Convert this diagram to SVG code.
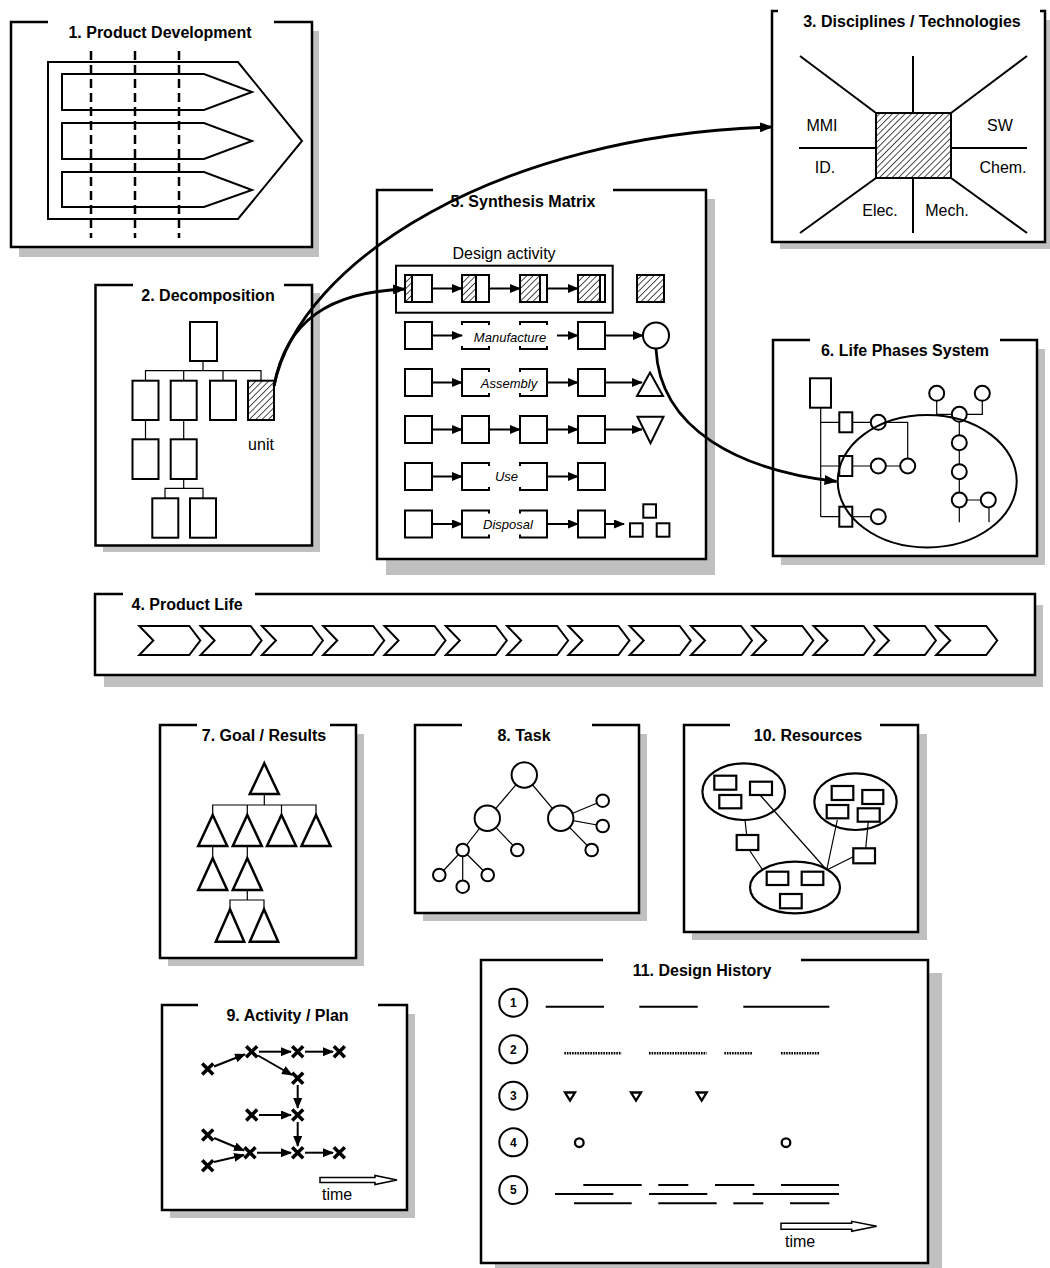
<svg xmlns="http://www.w3.org/2000/svg" width="1050" height="1268" viewBox="0 0 1050 1268">
<style>
text{font-family:"Liberation Sans",Arial,sans-serif;fill:#000}
.title{font-size:16px;font-weight:bold;text-anchor:middle}
.lbl{font-size:16px}
.it{font-size:13px;font-style:italic;text-anchor:middle}
.shadow{fill:#c0c0c0;stroke:none}
.bg{fill:#fff;stroke:none}
.frame{fill:none;stroke:#000;stroke-width:2.5}
.s2{fill:none;stroke:#000;stroke-width:2}
.sw{fill:#fff;stroke:#000;stroke-width:2}
.thin{fill:none;stroke:#000;stroke-width:1.2}
.arr{fill:none;stroke:#000;stroke-width:2;marker-end:url(#ah)}
.curve{fill:none;stroke:#000;stroke-width:2.8;marker-end:url(#ahb)}
.x{fill:none;stroke:#000;stroke-width:3.5}
</style>
<defs>
<pattern id="hatch" patternUnits="userSpaceOnUse" width="4.5" height="4.5" patternTransform="rotate(45)">
<rect width="4.5" height="4.5" fill="#fff"/>
<line x1="0" y1="0" x2="0" y2="4.5" stroke="#000" stroke-width="1.4"/>
</pattern>
<marker id="ah" markerWidth="11" markerHeight="9" refX="10" refY="4.5" orient="auto" markerUnits="userSpaceOnUse"><path d="M0,0 L11,4.5 L0,9 z" fill="#000"/></marker>
<marker id="ahb" markerWidth="13" markerHeight="10" refX="12" refY="5" orient="auto" markerUnits="userSpaceOnUse"><path d="M0,0 L13,5 L0,10 z" fill="#000"/></marker>
</defs>
<rect width="1050" height="1268" fill="#fff"/>

<!-- 1 Product Development -->
<g id="n1">
<rect class="shadow" x="19" y="31" width="300" height="226"/>
<rect class="bg" x="11" y="22" width="301" height="225"/>
<path class="frame" d="M48,22 H11 V247 H312 V22 H274"/>
<text class="title" x="160" y="38">1. Product Development</text>
<polygon class="s2" points="48,62 238,62 302,141 238,219 48,219"/>
<polygon class="s2" points="62,74 204,74 252,92 204,110 62,110"/>
<polygon class="s2" points="62,123 204,123 252,141 204,159 62,159"/>
<polygon class="s2" points="62,172 204,172 252,190 204,207 62,207"/>
<g stroke="#000" stroke-width="2.5" stroke-dasharray="9 5">
<line x1="91" y1="51" x2="91" y2="238"/>
<line x1="135" y1="51" x2="135" y2="238"/>
<line x1="179" y1="51" x2="179" y2="238"/>
</g>
</g>

<!-- 3 Disciplines -->
<g id="n3">
<rect class="shadow" x="780" y="20" width="280" height="229"/>
<rect class="bg" x="772" y="11" width="273" height="231"/>
<path class="frame" d="M778,11 H772 V242 H1045 V11 H1040"/>
<text class="title" x="912" y="27">3. Disciplines / Technologies</text>
<g class="s2">
<line x1="800" y1="56" x2="876" y2="113"/>
<line x1="913" y1="56" x2="913" y2="113"/>
<line x1="1027" y1="56" x2="951" y2="113"/>
<line x1="799" y1="148" x2="876" y2="148"/>
<line x1="951" y1="148" x2="1027" y2="148"/>
<line x1="876" y1="178" x2="800" y2="233"/>
<line x1="913" y1="178" x2="913" y2="233"/>
<line x1="951" y1="178" x2="1027" y2="233"/>
</g>
<rect x="876" y="113" width="75" height="65" fill="url(#hatch)" stroke="#000" stroke-width="2"/>
<text class="lbl" x="822" y="131" text-anchor="middle">MMI</text>
<text class="lbl" x="1000" y="131" text-anchor="middle">SW</text>
<text class="lbl" x="825" y="173" text-anchor="middle">ID.</text>
<text class="lbl" x="1003" y="173" text-anchor="middle">Chem.</text>
<text class="lbl" x="880" y="216" text-anchor="middle">Elec.</text>
<text class="lbl" x="947" y="216" text-anchor="middle">Mech.</text>
</g>

<!-- 2 Decomposition -->
<g id="n2">
<rect class="shadow" x="103" y="293" width="217" height="259"/>
<rect class="bg" x="95.5" y="285" width="216.5" height="260.5"/>
<path class="frame" d="M133,285 H95.5 V545.5 H312 V285 H284"/>
<text class="title" x="208" y="301">2. Decomposition</text>
<g class="thin">
<path d="M203,361 V370.7 M145.5,380.7 V370.7 H261 V380.7 M183.7,370.7 V380.7 M223,370.7 V380.7"/>
<path d="M145.5,420 V439.3 M183.7,420 V439.3"/>
<path d="M183.7,479 V488.3 M165,498.3 V488.3 H203 V498.3"/>
</g>
<g class="sw">
<rect x="190" y="322" width="27" height="39"/>
<rect x="132.5" y="380.7" width="26" height="39.3"/>
<rect x="170.7" y="380.7" width="26" height="39.3"/>
<rect x="210" y="380.7" width="26" height="39.3"/>
<rect x="132.5" y="439.3" width="26" height="39.7"/>
<rect x="170.7" y="439.3" width="26" height="39.7"/>
<rect x="152.3" y="498.3" width="26" height="39.4"/>
<rect x="190" y="498.3" width="26" height="39.4"/>
</g>
<rect x="248" y="380.7" width="26" height="39.3" fill="url(#hatch)" stroke="#000" stroke-width="2"/>
<text class="lbl" x="261" y="450" text-anchor="middle">unit</text>
</g>

<!-- 5 Synthesis Matrix -->
<g id="n5">
<rect class="shadow" x="386" y="199" width="329" height="376"/>
<rect class="bg" x="377" y="190" width="329" height="369"/>
<path class="frame" d="M433,190 H377 V559 H706 V190 H613"/>
<text class="title" x="523" y="207">5. Synthesis Matrix</text>
<text class="lbl" x="504" y="259" text-anchor="middle">Design activity</text>
<rect class="s2" x="396" y="265.7" width="216.7" height="47"/>
<!-- row 1 -->
<g>
<rect x="405" y="275" width="7" height="27" fill="url(#hatch)"/>
<rect x="462" y="275" width="14" height="27" fill="url(#hatch)"/>
<rect x="520" y="275" width="20" height="27" fill="url(#hatch)"/>
<rect x="578" y="275" width="22" height="27" fill="url(#hatch)"/>
<rect x="637" y="275" width="27" height="27" fill="url(#hatch)"/>
<g class="s2">
<rect x="405" y="275" width="27" height="27"/><line x1="412" y1="275" x2="412" y2="302"/>
<rect x="462" y="275" width="27" height="27"/><line x1="476" y1="275" x2="476" y2="302"/>
<rect x="520" y="275" width="27" height="27"/><line x1="540" y1="275" x2="540" y2="302"/>
<rect x="578" y="275" width="27" height="27"/><line x1="600" y1="275" x2="600" y2="302"/>
<rect x="637" y="275" width="27" height="27"/>
</g>
<line class="arr" x1="432" y1="288.5" x2="462" y2="288.5"/>
<line class="arr" x1="489" y1="288.5" x2="520" y2="288.5"/>
<line class="arr" x1="547" y1="288.5" x2="578" y2="288.5"/>
</g>
<!-- row 2 Manufacture -->
<g>
<rect class="sw" x="405" y="322" width="27" height="27"/>
<rect class="sw" x="462" y="322" width="27" height="27"/>
<rect class="sw" x="520" y="322" width="27" height="27"/>
<rect class="sw" x="578" y="322" width="27" height="27"/>
<rect class="bg" x="460" y="325" width="97" height="21"/>
<text class="it" x="510" y="341.5">Manufacture</text>
<line class="arr" x1="432" y1="335.5" x2="462" y2="335.5"/>
<line class="arr" x1="557" y1="335.5" x2="578" y2="335.5"/>
<line class="arr" x1="605" y1="335.5" x2="643" y2="335.5"/>
<circle class="sw" cx="656" cy="335.5" r="13"/>
</g>
<!-- row 3 Assembly -->
<g>
<rect class="sw" x="405" y="369" width="27" height="27"/>
<rect class="sw" x="462" y="369" width="27" height="27"/>
<rect class="sw" x="520" y="369" width="27" height="27"/>
<rect class="sw" x="578" y="369" width="27" height="27"/>
<rect class="bg" x="465" y="372" width="80" height="21"/>
<text class="it" x="509" y="388.3">Assembly</text>
<line class="arr" x1="432" y1="382.5" x2="462" y2="382.5"/>
<line class="arr" x1="547" y1="382.5" x2="578" y2="382.5"/>
<line class="arr" x1="605" y1="382.5" x2="642" y2="382.5"/>
<polygon class="sw" points="650,372.5 663,396 637,396"/>
</g>
<!-- row 4 -->
<g>
<rect class="sw" x="405" y="416" width="27" height="27"/>
<rect class="sw" x="462" y="416" width="27" height="27"/>
<rect class="sw" x="520" y="416" width="27" height="27"/>
<rect class="sw" x="578" y="416" width="27" height="27"/>
<line class="arr" x1="432" y1="429.5" x2="462" y2="429.5"/>
<line class="arr" x1="489" y1="429.5" x2="520" y2="429.5"/>
<line class="arr" x1="547" y1="429.5" x2="578" y2="429.5"/>
<line class="arr" x1="605" y1="429.5" x2="642" y2="429.5"/>
<polygon class="sw" points="637.5,416.7 663.5,416.7 650.5,443.3"/>
</g>
<!-- row 5 Use -->
<g>
<rect class="sw" x="405" y="463" width="27" height="27"/>
<rect class="sw" x="462" y="463" width="27" height="27"/>
<rect class="sw" x="520" y="463" width="27" height="27"/>
<rect class="sw" x="578" y="463" width="27" height="27"/>
<rect class="bg" x="465" y="466" width="80" height="21"/>
<text class="it" x="506.5" y="481">Use</text>
<line class="arr" x1="432" y1="476.5" x2="462" y2="476.5"/>
<line class="arr" x1="547" y1="476.5" x2="578" y2="476.5"/>
</g>
<!-- row 6 Disposal -->
<g>
<rect class="sw" x="405" y="510.5" width="27" height="27"/>
<rect class="sw" x="462" y="510.5" width="27" height="27"/>
<rect class="sw" x="520" y="510.5" width="27" height="27"/>
<rect class="sw" x="578" y="510.5" width="27" height="27"/>
<rect class="bg" x="465" y="513.5" width="80" height="21"/>
<text class="it" x="508" y="529">Disposal</text>
<line class="arr" x1="432" y1="524" x2="462" y2="524"/>
<line class="arr" x1="547" y1="524" x2="578" y2="524"/>
<line class="arr" x1="605" y1="524" x2="624" y2="524"/>
<rect class="sw" x="643.3" y="504.3" width="12.7" height="13.4"/>
<rect class="sw" x="630" y="523.3" width="12.7" height="13.4"/>
<rect class="sw" x="656.7" y="523.3" width="12.7" height="13.4"/>
</g>
</g>

<!-- 6 Life Phases System -->
<g id="n6">
<rect class="shadow" x="781" y="349" width="264" height="216"/>
<rect class="bg" x="773" y="340" width="264" height="216"/>
<path class="frame" d="M810,340 H773 V556 H1037 V340 H1000"/>
<text class="title" x="905" y="356">6. Life Phases System</text>
<ellipse cx="927.2" cy="481.2" rx="89.5" ry="66.2" fill="none" stroke="#000" stroke-width="2"/>
<g class="thin">
<path d="M820.7,407.7 V516.7 M820.7,422.3 H839.3 M820.7,466 H839.3 M820.7,516.7 H839.3"/>
<path d="M852.3,422.3 H870.8 M885.8,422.3 H907.7 V458.5"/>
<path d="M852.3,466 H870.8 M885.8,466 H900.2"/>
<path d="M852.3,516.7 H870.8"/>
<path d="M936.7,400.8 V414.3 H951.8 M966.8,414.3 H982.3 V400.8"/>
<path d="M959.3,421.8 V435.2 M959.3,450.2 V464.2 M959.3,479.2 V492.5 M966.8,500 H980.8"/>
<path d="M959.3,507.5 V522.3 M989,507.5 V522.3"/>
</g>
<rect class="s2" x="810" y="378.3" width="21" height="29.4"/>
<g class="s2">
<rect x="839.3" y="412.3" width="13" height="20"/>
<rect x="839.3" y="456" width="13" height="20"/>
<rect x="839.3" y="506.7" width="13" height="20"/>
<circle cx="878.3" cy="422.3" r="7.5"/>
<circle cx="878.3" cy="466" r="7.5"/>
<circle cx="907.7" cy="466" r="7.5"/>
<circle cx="878.3" cy="516.7" r="7.5"/>
<circle cx="936.7" cy="393.3" r="7.5"/>
<circle cx="982.3" cy="393.3" r="7.5"/>
<circle cx="959.3" cy="414.3" r="7.5"/>
<circle cx="959.3" cy="442.7" r="7.5"/>
<circle cx="959.3" cy="471.7" r="7.5"/>
<circle cx="959.3" cy="500" r="7.5"/>
<circle cx="988.3" cy="500" r="7.5"/>
</g>
</g>

<!-- 4 Product Life -->
<g id="n4">
<rect class="shadow" x="104" y="605" width="939" height="82"/>
<rect class="bg" x="95" y="594" width="940" height="81"/>
<path class="frame" d="M123,594 H95 V675 H1035 V594 H255"/>
<text class="title" x="131.5" y="609.5" style="text-anchor:start">4. Product Life</text>
<g class="s2">
<polygon points="139.3,626 189.3,626 200.3,640.5 189.3,655 139.3,655 153.3,640.5"/>
<polygon points="200.6,626 250.6,626 261.6,640.5 250.6,655 200.6,655 214.6,640.5"/>
<polygon points="261.9,626 311.9,626 322.9,640.5 311.9,655 261.9,655 275.9,640.5"/>
<polygon points="323.2,626 373.2,626 384.2,640.5 373.2,655 323.2,655 337.2,640.5"/>
<polygon points="384.5,626 434.5,626 445.5,640.5 434.5,655 384.5,655 398.5,640.5"/>
<polygon points="445.8,626 495.8,626 506.8,640.5 495.8,655 445.8,655 459.8,640.5"/>
<polygon points="507.1,626 557.1,626 568.1,640.5 557.1,655 507.1,655 521.1,640.5"/>
<polygon points="568.4,626 618.4,626 629.4,640.5 618.4,655 568.4,655 582.4,640.5"/>
<polygon points="629.7,626 679.7,626 690.7,640.5 679.7,655 629.7,655 643.7,640.5"/>
<polygon points="691,626 741,626 752,640.5 741,655 691,655 705,640.5"/>
<polygon points="752.3,626 802.3,626 813.3,640.5 802.3,655 752.3,655 766.3,640.5"/>
<polygon points="813.6,626 863.6,626 874.6,640.5 863.6,655 813.6,655 827.6,640.5"/>
<polygon points="874.9,626 924.9,626 935.9,640.5 924.9,655 874.9,655 888.9,640.5"/>
<polygon points="936.2,626 986.2,626 997.2,640.5 986.2,655 936.2,655 950.2,640.5"/>
</g>
</g>

<!-- 7 Goal / Results -->
<g id="n7">
<rect class="shadow" x="168" y="734" width="196" height="232"/>
<rect class="bg" x="160" y="725" width="196" height="233"/>
<path class="frame" d="M197,725 H160 V958 H356 V725 H330"/>
<text class="title" x="264" y="741">7. Goal / Results</text>
<g class="thin">
<path d="M264.3,794 V805 M212.7,815 V805 H316 V815 M247.3,805 V815 M281.5,805 V815"/>
<path d="M212.7,846 V858.3 M247.3,846 V858.3"/>
<path d="M247.3,890 V900 M230,909.3 V900 H264 V909.3"/>
</g>
<g class="s2" style="stroke-width:2.5">
<polygon points="264.3,763.3 278.8,794 249.8,794"/>
<polygon points="212.7,815 227.2,846 198.2,846"/>
<polygon points="247.3,815 261.8,846 232.8,846"/>
<polygon points="281.5,815 296,846 267,846"/>
<polygon points="316,815 330.5,846 301.5,846"/>
<polygon points="212.7,858.3 227.2,890 198.2,890"/>
<polygon points="247.3,858.3 261.8,890 232.8,890"/>
<polygon points="230,909.3 244.2,941.7 215.8,941.7"/>
<polygon points="264,909.3 278.2,941.7 249.8,941.7"/>
</g>
</g>

<!-- 8 Task -->
<g id="n8">
<rect class="shadow" x="423" y="734" width="224" height="187"/>
<rect class="bg" x="415" y="725" width="224" height="188"/>
<path class="frame" d="M462,725 H415 V913 H639 V725 H592"/>
<text class="title" x="524" y="741">8. Task</text>
<g class="thin">
<line x1="524.3" y1="775" x2="487.3" y2="818.3"/>
<line x1="524.3" y1="775" x2="560.7" y2="818.3"/>
<line x1="487.3" y1="818.3" x2="462.7" y2="850"/>
<line x1="487.3" y1="818.3" x2="517.3" y2="850"/>
<line x1="462.7" y1="850" x2="439.3" y2="875"/>
<line x1="462.7" y1="850" x2="462.7" y2="886.7"/>
<line x1="462.7" y1="850" x2="487.7" y2="875"/>
<line x1="560.7" y1="818.3" x2="602.7" y2="800.7"/>
<line x1="560.7" y1="818.3" x2="602.7" y2="826"/>
<line x1="560.7" y1="818.3" x2="591.7" y2="850"/>
</g>
<g class="sw">
<circle cx="524.3" cy="775" r="12.7"/>
<circle cx="487.3" cy="818.3" r="12.7"/>
<circle cx="560.7" cy="818.3" r="12.7"/>
<circle cx="462.7" cy="850" r="6.3"/>
<circle cx="517.3" cy="850" r="6.3"/>
<circle cx="439.3" cy="875" r="6.3"/>
<circle cx="462.7" cy="886.7" r="6.3"/>
<circle cx="487.7" cy="875" r="6.3"/>
<circle cx="602.7" cy="800.7" r="6.3"/>
<circle cx="602.7" cy="826" r="6.3"/>
<circle cx="591.7" cy="850" r="6.3"/>
</g>
</g>

<!-- 10 Resources -->
<g id="n10">
<rect class="shadow" x="692" y="734" width="235" height="206"/>
<rect class="bg" x="684" y="725" width="234" height="207"/>
<path class="frame" d="M730,725 H684 V932 H918 V725 H880"/>
<text class="title" x="808" y="741">10. Resources</text>
<g class="thin">
<line x1="745" y1="820" x2="746.7" y2="835"/>
<line x1="749.3" y1="850" x2="762.7" y2="870"/>
<line x1="760" y1="795" x2="826.7" y2="870"/>
<line x1="837.3" y1="820" x2="826.7" y2="870"/>
<line x1="868.3" y1="821.7" x2="865.7" y2="848.3"/>
<line x1="853.3" y1="856.7" x2="826.7" y2="870"/>
</g>
<g class="s2" style="stroke-width:2.2">
<ellipse cx="743.7" cy="791.7" rx="41.3" ry="28.3"/>
<ellipse cx="855.5" cy="801.7" rx="41.2" ry="28.3"/>
<ellipse cx="795" cy="887.5" rx="45" ry="25.8"/>
<rect x="714.3" y="775.7" width="22" height="14"/>
<rect x="719.3" y="795" width="22" height="13.3"/>
<rect x="750" y="781.7" width="22" height="13.3"/>
<rect x="831.7" y="786" width="21.6" height="14"/>
<rect x="862.3" y="790" width="21" height="14"/>
<rect x="826.7" y="805" width="21.6" height="13.3"/>
<rect x="857.7" y="808.3" width="22" height="13.4"/>
<rect x="766.7" y="871.7" width="21.6" height="13.3"/>
<rect x="801.7" y="871.7" width="21.6" height="13.3"/>
<rect x="780" y="894" width="21.7" height="14.3"/>
<rect x="736.7" y="835" width="21.6" height="15" fill="#fff"/>
<rect x="853.3" y="848.3" width="21.7" height="15" fill="#fff"/>
</g>
</g>

<!-- 9 Activity / Plan -->
<g id="n9">
<rect class="shadow" x="170" y="1014" width="245" height="204"/>
<rect class="bg" x="162" y="1005" width="245" height="205"/>
<path class="frame" d="M198,1005 H162 V1210 H407 V1005 H378"/>
<text class="title" x="287.5" y="1021">9. Activity / Plan</text>
<g class="x">
<path d="M202.2,1063.5 L213.2,1074.5 M202.2,1074.5 L213.2,1063.5"/>
<path d="M246.2,1046.2 L257.2,1057.2 M246.2,1057.2 L257.2,1046.2"/>
<path d="M292.2,1046.2 L303.2,1057.2 M292.2,1057.2 L303.2,1046.2"/>
<path d="M333.8,1046.2 L344.8,1057.2 M333.8,1057.2 L344.8,1046.2"/>
<path d="M292.2,1072.8 L303.2,1083.8 M292.2,1083.8 L303.2,1072.8"/>
<path d="M246.2,1109.5 L257.2,1120.5 M246.2,1120.5 L257.2,1109.5"/>
<path d="M292.2,1109.5 L303.2,1120.5 M292.2,1120.5 L303.2,1109.5"/>
<path d="M202.2,1129.5 L213.2,1140.5 M202.2,1140.5 L213.2,1129.5"/>
<path d="M202.2,1160.2 L213.2,1171.2 M202.2,1171.2 L213.2,1160.2"/>
<path d="M244.5,1147.2 L255.5,1158.2 M244.5,1158.2 L255.5,1147.2"/>
<path d="M292.2,1147.2 L303.2,1158.2 M292.2,1158.2 L303.2,1147.2"/>
<path d="M333.8,1147.2 L344.8,1158.2 M333.8,1158.2 L344.8,1147.2"/>
</g>
<line class="arr" x1="214" y1="1066.5" x2="245" y2="1054.3"/>
<line class="arr" x1="259" y1="1051.7" x2="291" y2="1051.7"/>
<line class="arr" x1="305" y1="1051.7" x2="333" y2="1051.7"/>
<line class="arr" x1="258" y1="1055.5" x2="292" y2="1075"/>
<line class="arr" x1="297.7" y1="1085" x2="297.7" y2="1108"/>
<line class="arr" x1="259" y1="1115" x2="291" y2="1115"/>
<line class="arr" x1="297.7" y1="1122" x2="297.7" y2="1146"/>
<line class="arr" x1="214" y1="1138" x2="244" y2="1150.5"/>
<line class="arr" x1="214" y1="1162" x2="244" y2="1155"/>
<line class="arr" x1="257" y1="1152.7" x2="291" y2="1152.7"/>
<line class="arr" x1="305" y1="1152.7" x2="333" y2="1152.7"/>
<polygon points="320,1177.5 375,1177.5 375,1175.5 397,1180 375,1184.5 375,1182.5 320,1182.5" fill="#fff" stroke="#000" stroke-width="1.5"/>
<text class="lbl" x="322" y="1200">time</text>
</g>

<!-- 11 Design History -->
<g id="n11">
<rect class="shadow" x="495" y="973" width="447" height="300"/>
<rect class="bg" x="481" y="960" width="447" height="303"/>
<path class="frame" d="M603,960 H481 V1263 H928 V960 H801"/>
<text class="title" x="702" y="976">11. Design History</text>
<g class="s2">
<circle cx="513.3" cy="1002.7" r="14"/>
<circle cx="513.3" cy="1049.3" r="14"/>
<circle cx="513.3" cy="1095.7" r="14"/>
<circle cx="513.3" cy="1142.3" r="14"/>
<circle cx="513.3" cy="1190" r="14"/>
</g>
<g style="font-size:12px;font-weight:bold;text-anchor:middle">
<text x="513.3" y="1007">1</text>
<text x="513.3" y="1053.6">2</text>
<text x="513.3" y="1100">3</text>
<text x="513.3" y="1146.6">4</text>
<text x="513.3" y="1194.3">5</text>
</g>
<g stroke="#000" stroke-width="2">
<line x1="545.7" y1="1006.7" x2="604" y2="1006.7"/>
<line x1="639.3" y1="1006.7" x2="697.7" y2="1006.7"/>
<line x1="743.3" y1="1006.7" x2="829.3" y2="1006.7"/>
</g>
<g stroke="#000" stroke-width="2.5" stroke-dasharray="1.6 1">
<line x1="564.3" y1="1053.3" x2="621.7" y2="1053.3"/>
<line x1="649" y1="1053.3" x2="706.7" y2="1053.3"/>
<line x1="724.3" y1="1053.3" x2="752.7" y2="1053.3"/>
<line x1="781" y1="1053.3" x2="820" y2="1053.3"/>
</g>
<g fill="none" stroke="#000" stroke-width="2.3">
<polygon points="565,1092.5 575,1092.5 570,1100.5"/>
<polygon points="631,1092.5 641,1092.5 636,1100.5"/>
<polygon points="696.7,1092.5 706.7,1092.5 701.7,1100.5"/>
<circle cx="579.3" cy="1142.7" r="4.3"/>
<circle cx="786" cy="1142.7" r="4.3"/>
</g>
<g stroke="#000" stroke-width="2">
<line x1="583.3" y1="1185" x2="641.7" y2="1185"/>
<line x1="658.3" y1="1185" x2="688.3" y2="1185"/>
<line x1="715" y1="1185" x2="754.3" y2="1185"/>
<line x1="781" y1="1185" x2="839" y2="1185"/>
<line x1="555" y1="1194" x2="613.3" y2="1194"/>
<line x1="649" y1="1194" x2="707.3" y2="1194"/>
<line x1="752.7" y1="1194" x2="839" y2="1194"/>
<line x1="574" y1="1203.3" x2="631.7" y2="1203.3"/>
<line x1="658.3" y1="1203.3" x2="716.7" y2="1203.3"/>
<line x1="733.3" y1="1203.3" x2="763.3" y2="1203.3"/>
<line x1="790" y1="1203.3" x2="829.3" y2="1203.3"/>
</g>
<polygon points="781,1223.3 851.7,1223.3 851.7,1221.3 876.7,1226.3 851.7,1231.3 851.7,1229.3 781,1229.3" fill="#fff" stroke="#000" stroke-width="1.5"/>
<text class="lbl" x="785" y="1247">time</text>
</g>

<!-- connectors -->
<g id="connectors">
<path class="curve" d="M274,386 C300,260 500,135 772,127"/>
<path class="curve" d="M274,386 C286,320 330,292 405,289"/>
<path class="curve" d="M656,349 C660,430 740,470 836.5,481.5"/>
</g>
</svg>
